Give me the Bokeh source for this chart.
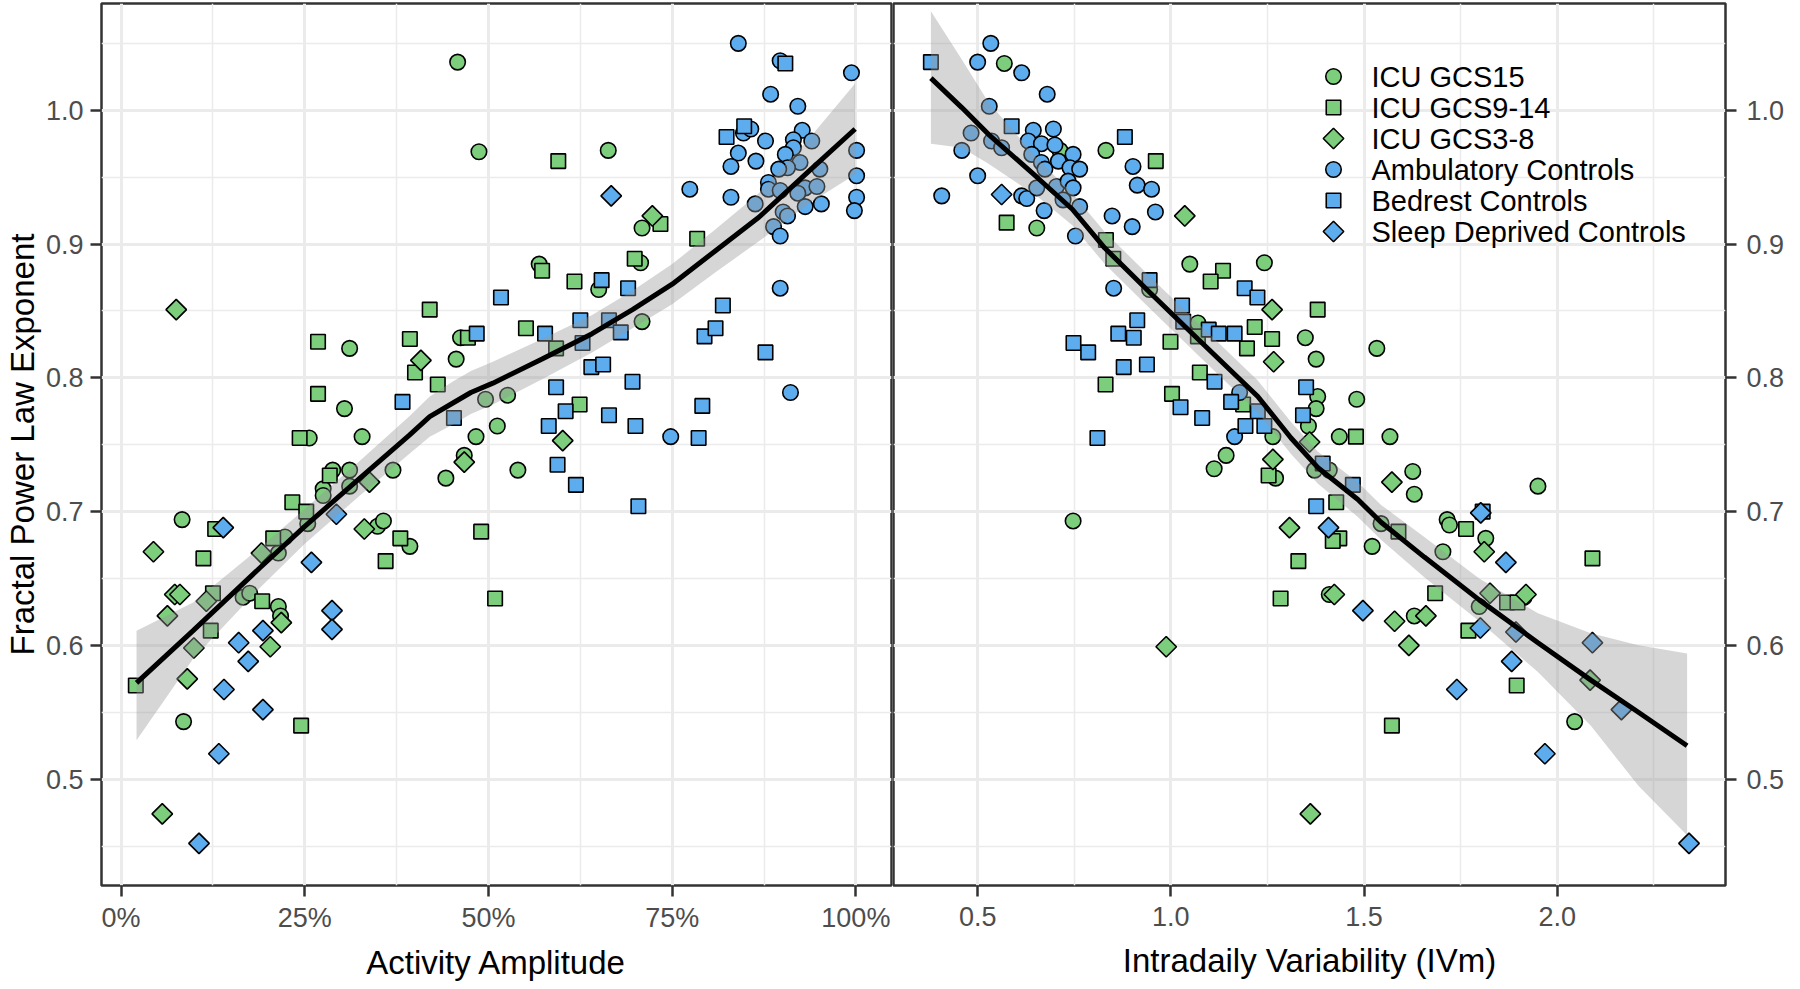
import numpy as np
from bokeh.plotting import figure
from bokeh.layouts import row
from bokeh.models import Range1d, FixedTicker, NumeralTickFormatter
from bokeh.core.properties import value
from bokeh.embed import file_html
from bokeh.resources import INLINE

# ---------------- data: Activity Amplitude panel ----------------
aa_gcs15_x = [0.458, 0.487, 0.311, 0.462, 0.456, 0.304, 0.496, 0.526, 0.512, 0.256, 0.328, 0.483, 0.467, 0.569, 0.288, 0.311, 0.370, 0.442, 0.540, 0.275, 0.275, 0.311, 0.254, 0.083, 0.349, 0.357, 0.393, 0.223, 0.214, 0.166, 0.175, 0.214, 0.217, 0.085, 0.663, 0.709, 0.650, 0.707, 0.709]
aa_gcs15_y = [1.036, 0.969, 0.822, 0.830, 0.814, 0.777, 0.784, 0.787, 0.764, 0.755, 0.756, 0.756, 0.742, 0.885, 0.731, 0.731, 0.731, 0.725, 0.731, 0.717, 0.712, 0.719, 0.691, 0.694, 0.689, 0.693, 0.674, 0.681, 0.669, 0.636, 0.639, 0.629, 0.622, 0.543, 0.970, 0.912, 0.866, 0.886, 0.842]
aa_gcs914_x = [0.420, 0.268, 0.393, 0.472, 0.551, 0.400, 0.431, 0.268, 0.243, 0.573, 0.284, 0.233, 0.252, 0.128, 0.380, 0.360, 0.490, 0.509, 0.112, 0.207, 0.125, 0.192, 0.122, 0.020, 0.245, 0.595, 0.734, 0.784, 0.617, 0.699, 0.592, 0.624]
aa_gcs914_y = [0.851, 0.827, 0.829, 0.830, 0.837, 0.804, 0.795, 0.788, 0.755, 0.880, 0.727, 0.707, 0.700, 0.687, 0.680, 0.663, 0.685, 0.635, 0.665, 0.680, 0.639, 0.633, 0.611, 0.570, 0.540, 0.962, 0.915, 0.904, 0.872, 0.889, 0.822, 0.780]
aa_gcs38_x = [0.075, 0.408, 0.467, 0.338, 0.331, 0.044, 0.191, 0.073, 0.080, 0.116, 0.218, 0.063, 0.099, 0.203, 0.090, 0.056, 0.723, 0.601]
aa_gcs38_y = [0.851, 0.813, 0.737, 0.722, 0.687, 0.670, 0.669, 0.638, 0.638, 0.633, 0.617, 0.622, 0.598, 0.599, 0.575, 0.474, 0.921, 0.753]
aa_amb_x = [0.840, 0.897, 0.994, 0.884, 0.921, 0.847, 0.857, 0.877, 0.927, 0.915, 0.940, 0.915, 0.904, 0.840, 0.830, 0.864, 1.001, 0.924, 0.951, 0.907, 0.895, 1.001, 0.881, 0.881, 0.897, 0.931, 0.947, 0.921, 0.774, 0.830, 0.863, 0.931, 0.953, 0.901, 0.907, 1.001, 0.998, 0.888, 0.897, 0.897, 0.911, 0.748]
aa_amb_y = [1.050, 1.037, 1.028, 1.012, 1.003, 0.983, 0.986, 0.977, 0.985, 0.978, 0.977, 0.972, 0.967, 0.968, 0.958, 0.962, 0.970, 0.961, 0.956, 0.957, 0.956, 0.951, 0.946, 0.941, 0.940, 0.942, 0.943, 0.938, 0.941, 0.935, 0.930, 0.928, 0.930, 0.924, 0.921, 0.935, 0.925, 0.913, 0.906, 0.867, 0.789, 0.756]
aa_bed_x = [0.517, 0.484, 0.383, 0.453, 0.904, 0.848, 0.824, 0.654, 0.690, 0.577, 0.625, 0.628, 0.664, 0.680, 0.640, 0.656, 0.696, 0.592, 0.819, 0.794, 0.809, 0.877, 0.605, 0.582, 0.664, 0.791, 0.700, 0.786, 0.594, 0.619, 0.704]
aa_bed_y = [0.860, 0.833, 0.782, 0.770, 1.035, 0.988, 0.980, 0.873, 0.867, 0.833, 0.843, 0.826, 0.843, 0.834, 0.808, 0.810, 0.797, 0.793, 0.854, 0.831, 0.837, 0.819, 0.775, 0.764, 0.772, 0.779, 0.764, 0.755, 0.735, 0.720, 0.704]
aa_sleep_x = [0.293, 0.139, 0.259, 0.193, 0.287, 0.287, 0.160, 0.173, 0.140, 0.193, 0.133, 0.106, 0.667]
aa_sleep_y = [0.698, 0.688, 0.662, 0.611, 0.626, 0.612, 0.602, 0.588, 0.567, 0.552, 0.519, 0.452, 0.936]

aa_fit_x = [0.021, 0.098, 0.189, 0.250, 0.325, 0.392, 0.420, 0.451, 0.476, 0.506, 0.573, 0.641, 0.696, 0.750, 0.809, 0.868, 0.935, 0.999]
aa_fit_y = [0.572, 0.611, 0.658, 0.689, 0.725, 0.757, 0.771, 0.781, 0.789, 0.796, 0.814, 0.833, 0.851, 0.870, 0.895, 0.920, 0.954, 0.986]
aa_fit_lo = [0.529, 0.590, 0.643, 0.676, 0.712, 0.743, 0.756, 0.765, 0.773, 0.780, 0.799, 0.819, 0.837, 0.855, 0.879, 0.902, 0.930, 0.952]
aa_fit_hi = [0.611, 0.632, 0.673, 0.702, 0.738, 0.771, 0.786, 0.797, 0.805, 0.812, 0.829, 0.847, 0.865, 0.885, 0.911, 0.938, 0.978, 1.020]

# ---------------- data: Intradaily Variability panel ----------------
iv_gcs15_x = [0.569, 0.713, 0.653, 0.832, 0.945, 1.049, 1.242, 1.070, 1.348, 1.376, 1.264, 1.380, 1.376, 1.356, 1.143, 1.112, 1.271, 0.747, 1.533, 1.481, 1.436, 1.567, 1.626, 1.372, 1.410, 1.630, 1.950, 1.544, 1.521, 1.715, 1.721, 1.815, 1.704, 1.410, 1.630, 1.914, 1.798, 2.045]
iv_gcs15_y = [1.035, 0.970, 0.912, 0.970, 0.866, 0.885, 0.886, 0.841, 0.830, 0.814, 0.756, 0.786, 0.777, 0.764, 0.742, 0.732, 0.725, 0.693, 0.822, 0.784, 0.756, 0.756, 0.730, 0.731, 0.731, 0.713, 0.719, 0.691, 0.674, 0.694, 0.690, 0.680, 0.670, 0.638, 0.622, 0.636, 0.629, 0.543]
iv_gcs914_x = [0.575, 0.961, 0.832, 0.851, 1.135, 1.103, 1.380, 1.070, 1.217, 1.262, 1.197, 0.999, 0.831, 1.075, 1.003, 1.187, 1.253, 1.330, 1.284, 1.479, 1.428, 1.436, 1.419, 1.589, 1.764, 2.091, 1.684, 1.870, 1.897, 1.770, 1.895, 1.572]
iv_gcs914_y = [0.916, 0.962, 0.903, 0.889, 0.880, 0.872, 0.851, 0.831, 0.838, 0.829, 0.822, 0.827, 0.795, 0.804, 0.788, 0.780, 0.727, 0.663, 0.635, 0.756, 0.707, 0.680, 0.678, 0.685, 0.687, 0.665, 0.639, 0.632, 0.632, 0.611, 0.570, 0.540]
iv_gcs38_x = [1.036, 1.262, 1.266, 1.359, 1.264, 1.307, 0.988, 1.361, 1.572, 1.423, 1.579, 1.660, 1.616, 1.826, 1.919, 1.811, 2.085]
iv_gcs38_y = [0.921, 0.851, 0.812, 0.752, 0.739, 0.688, 0.599, 0.474, 0.722, 0.638, 0.618, 0.622, 0.600, 0.639, 0.638, 0.670, 0.574]
iv_amb_x = [0.534, 0.500, 0.614, 0.680, 0.530, 0.483, 0.459, 0.644, 0.696, 0.631, 0.665, 0.700, 0.536, 0.562, 0.640, 0.747, 0.709, 0.665, 0.739, 0.764, 0.674, 0.500, 0.407, 0.614, 0.627, 0.653, 0.704, 0.734, 0.747, 0.721, 0.764, 0.672, 0.753, 0.902, 0.913, 0.950, 0.960, 0.848, 0.900, 0.852, 1.178, 1.165]
iv_amb_y = [1.050, 1.036, 1.028, 1.012, 1.003, 0.983, 0.970, 0.985, 0.986, 0.977, 0.975, 0.974, 0.977, 0.972, 0.967, 0.967, 0.962, 0.961, 0.957, 0.956, 0.956, 0.951, 0.936, 0.936, 0.934, 0.942, 0.943, 0.947, 0.942, 0.933, 0.928, 0.925, 0.906, 0.958, 0.944, 0.941, 0.924, 0.921, 0.913, 0.867, 0.789, 0.756]
iv_bed_x = [0.379, 0.588, 0.881, 0.945, 1.191, 1.224, 1.029, 1.032, 1.098, 1.124, 1.165, 0.913, 0.864, 0.904, 0.748, 0.786, 0.878, 0.938, 1.113, 1.025, 1.081, 1.156, 1.225, 1.193, 1.242, 0.810, 1.350, 1.342, 1.376, 1.393, 1.471, 1.807]
iv_bed_y = [1.036, 0.988, 0.980, 0.873, 0.867, 0.860, 0.854, 0.842, 0.836, 0.833, 0.833, 0.843, 0.833, 0.830, 0.826, 0.819, 0.808, 0.810, 0.797, 0.778, 0.770, 0.782, 0.775, 0.764, 0.764, 0.755, 0.793, 0.772, 0.704, 0.736, 0.720, 0.700]
iv_sleep_x = [0.562, 1.408, 1.497, 1.802, 1.867, 1.801, 1.893, 2.091, 1.882, 1.740, 2.166, 1.968, 2.341]
iv_sleep_y = [0.937, 0.688, 0.626, 0.699, 0.662, 0.613, 0.610, 0.602, 0.588, 0.567, 0.552, 0.519, 0.452]

iv_fit_x = [0.379, 0.459, 0.528, 0.657, 0.745, 0.829, 0.945, 1.070, 1.225, 1.311, 1.380, 1.484, 1.544, 1.656, 1.798, 1.950, 2.087, 2.210, 2.336]
iv_fit_y = [1.024, 1.002, 0.982, 0.949, 0.926, 0.897, 0.864, 0.829, 0.786, 0.755, 0.733, 0.709, 0.692, 0.666, 0.634, 0.602, 0.574, 0.550, 0.525]
iv_fit_lo = [0.975, 0.972, 0.960, 0.935, 0.914, 0.885, 0.852, 0.817, 0.774, 0.743, 0.721, 0.696, 0.679, 0.651, 0.618, 0.580, 0.540, 0.495, 0.458]
iv_fit_hi = [1.074, 1.038, 1.006, 0.963, 0.938, 0.909, 0.876, 0.841, 0.798, 0.767, 0.745, 0.722, 0.705, 0.681, 0.650, 0.624, 0.609, 0.600, 0.594]

group_labels = ["ICU GCS15", "ICU GCS9-14", "ICU GCS3-8", "Ambulatory Controls", "Bedrest Controls", "Sleep Deprived Controls"]

y_ticks = [0.5, 0.6, 0.7, 0.8, 0.9, 1.0]
y_minor = [0.45, 0.55, 0.65, 0.75, 0.85, 0.95, 1.05]
aa_ticks = [0.0, 0.25, 0.5, 0.75, 1.0]
aa_minor = [0.125, 0.375, 0.625, 0.875]
iv_ticks = [0.5, 1.0, 1.5, 2.0]
iv_minor = [0.75, 1.25, 1.75, 2.25]

# ---------------- styling / layout ----------------
GREEN = "#7CCD7C"
BLUE = "#5CACEE"
FONT = "Liberation Sans"
styles = [
    (GREEN, "circle", 0.0, 15.5),
    (GREEN, "square", 0.0, 14.5),
    (GREEN, "square", np.pi / 4, 14.5),
    (BLUE, "circle", 0.0, 15.5),
    (BLUE, "square", 0.0, 14.5),
    (BLUE, "square", np.pi / 4, 14.5),
]

yr = Range1d(0.4205, 1.0798)
FH = 882
FW_LEFT = 790
FW_RIGHT = 832


def make_fig(xr, ticks, minor, fmt, fw, **kw):
    p = figure(frame_width=fw, frame_height=FH, x_range=xr, y_range=yr,
               output_backend="svg", toolbar_location=None,
               background_fill_color="white", border_fill_color="white",
               outline_line_color="#333333", outline_line_width=2.5,
               min_border_top=3, min_border_bottom=92, **kw)
    p.xaxis.ticker = FixedTicker(ticks=ticks, minor_ticks=minor)
    p.yaxis.ticker = FixedTicker(ticks=y_ticks, minor_ticks=y_minor)
    p.xaxis.formatter = NumeralTickFormatter(format=fmt)
    p.yaxis.formatter = NumeralTickFormatter(format="0.0")
    for ax in p.axis:
        ax.axis_line_color = None
        ax.major_tick_line_color = "#333333"
        ax.major_tick_line_width = 2.5
        ax.major_tick_in = 0
        ax.major_tick_out = 11
        ax.minor_tick_line_color = None
        ax.major_label_text_font = FONT
        ax.major_label_text_font_size = "27px"
        ax.major_label_text_color = "#4D4D4D"
        ax.axis_label_text_font = FONT
        ax.axis_label_text_font_size = "33px"
        ax.axis_label_text_font_style = "normal"
        ax.axis_label_text_color = "black"
    p.xaxis.major_label_standoff = 6
    p.xaxis.axis_label_standoff = 8
    p.yaxis.major_label_standoff = 7
    p.yaxis.axis_label_standoff = 2
    for g in (p.xgrid, p.ygrid):
        g.grid_line_color = "#EBEBEB"
        g.grid_line_width = 3
        g.minor_grid_line_color = "#EBEBEB"
        g.minor_grid_line_width = 1.5
    return p


def draw(p, groups, fx, fy, flo, fhi):
    for (xs, ys), (col, mk, ang, sz) in zip(groups, styles):
        p.scatter(xs, ys, marker=mk, angle=ang, size=sz, fill_color=col,
                  line_color="black", line_width=1.6)
    p.varea(x=fx, y1=flo, y2=fhi, fill_color="#999999", fill_alpha=0.4)
    p.line(fx, fy, line_color="black", line_width=5)


p1 = make_fig(Range1d(-0.0267, 1.0485), aa_ticks, aa_minor, "0%", FW_LEFT,
              min_border_left=96, min_border_right=1)
p1.xaxis.axis_label = "Activity Amplitude"
p1.yaxis.axis_label = "Fractal Power Law Exponent"
draw(p1, [(aa_gcs15_x, aa_gcs15_y), (aa_gcs914_x, aa_gcs914_y), (aa_gcs38_x, aa_gcs38_y),
          (aa_amb_x, aa_amb_y), (aa_bed_x, aa_bed_y), (aa_sleep_x, aa_sleep_y)],
     aa_fit_x, aa_fit_y, aa_fit_lo, aa_fit_hi)

xr2 = Range1d(0.2822, 2.4354)
p2 = make_fig(xr2, iv_ticks, iv_minor, "0.0", FW_RIGHT,
              min_border_left=1, min_border_right=64, y_axis_location="right")
p2.xaxis.axis_label = "Intradaily Variability (IVm)"
p2.xaxis.major_label_standoff = 10
p2.xaxis.axis_label_standoff = 13
p2.yaxis.major_label_standoff = 10
draw(p2, [(iv_gcs15_x, iv_gcs15_y), (iv_gcs914_x, iv_gcs914_y), (iv_gcs38_x, iv_gcs38_y),
          (iv_amb_x, iv_amb_y), (iv_bed_x, iv_bed_y), (iv_sleep_x, iv_sleep_y)],
     iv_fit_x, iv_fit_y, iv_fit_lo, iv_fit_hi)

# ---------------- legend (placed by pixel offsets inside the right panel) ----------------
LEG_KEY_PX = 440      # key centre, px from the panel's left edge
LEG_TEXT_PX = 478     # label start, px from the panel's left edge
LEG_TOP_PX = 73       # first row centre, px from the panel's top edge
LEG_ROW_PX = 31       # row pitch, px
xs_per_px = (xr2.end - xr2.start) / FW_RIGHT
ys_per_px = (yr.end - yr.start) / FH
key_x = xr2.start + LEG_KEY_PX * xs_per_px
text_x = xr2.start + LEG_TEXT_PX * xs_per_px
row_y = [yr.end - (LEG_TOP_PX + k * LEG_ROW_PX) * ys_per_px for k in range(len(group_labels))]
for (col, mk, ang, sz), yy in zip(styles, row_y):
    p2.scatter([key_x], [yy], marker=mk, angle=ang, size=sz, fill_color=col,
               line_color="black", line_width=1.6)
p2.text(x=[text_x] * len(group_labels), y=row_y, text=group_labels,
        text_font=value(FONT), text_font_size="29px", text_color="black",
        text_align="left", text_baseline="middle")

layout = row(p1, p2)
open("out.html", "w").write(file_html(layout, INLINE))
